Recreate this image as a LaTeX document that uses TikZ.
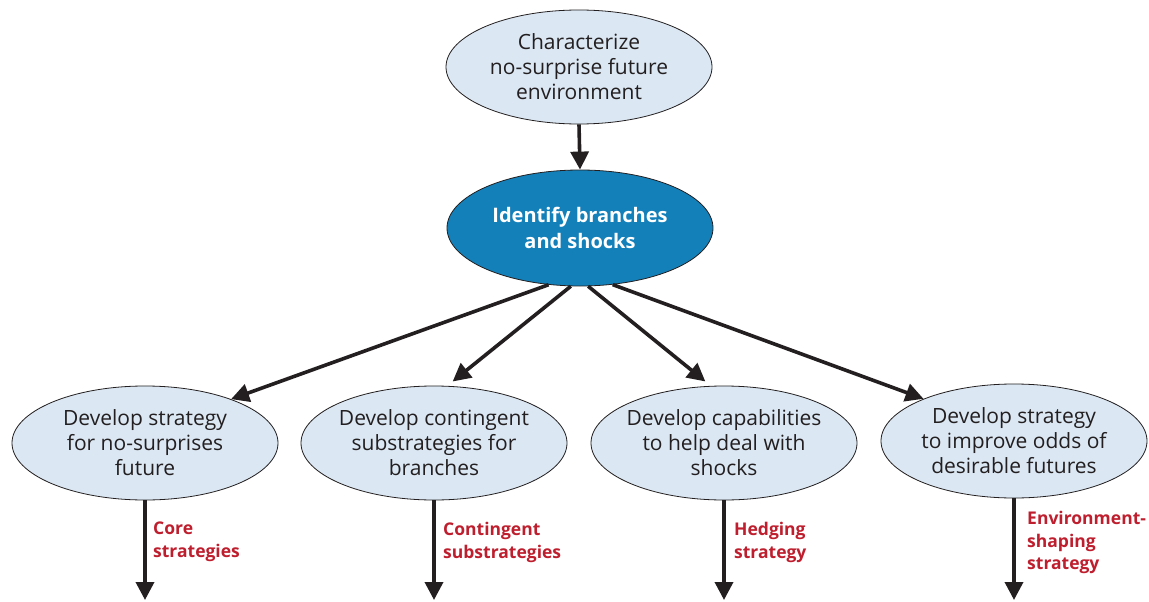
\documentclass[tikz,border=0pt]{standalone}
\usepackage{fontspec}
\setmainfont{Open Sans}
\usetikzlibrary{shapes.geometric,arrows.meta}
\definecolor{lightfill}{RGB}{219,231,243}
\definecolor{darkblue}{RGB}{20,128,186}
\definecolor{labelred}{RGB}{190,30,45}
\definecolor{textgray}{RGB}{35,31,32}
\tikzset{
  oval/.style={ellipse, draw=textgray, line width=0.8pt, fill=lightfill, inner sep=-8pt,
    minimum width=266pt, minimum height=114pt, align=center, text=textgray,
    font=\fontsize{21}{25}\selectfont},
  mainoval/.style={oval, fill=darkblue, text=white, minimum height=116pt,
    font=\fontsize{20}{26}\selectfont\bfseries},
  conn/.style={line width=3.6pt, draw=textgray, -{Triangle[length=18pt,width=18pt]}},
  redlabel/.style={anchor=north west, align=left, text=labelred, inner sep=0pt,
    font=\fontsize{17.5}{22.5}\selectfont\bfseries},
}
\begin{document}
\begin{tikzpicture}[x=1pt,y=-1pt]
\useasboundingbox (0,0) rectangle (1149,602);
\node[oval] (top) at (579,67) {Characterize\\no-surprise future\\environment};
\node[mainoval] (mid) at (580,228) {Identify branches\\and shocks};
\node[oval] (d1) at (145,443) {Develop strategy\\for no-surprises\\future};
\node[oval] (d2) at (434,443) {Develop contingent\\substrategies for\\branches};
\node[oval] (d3) at (724,443) {Develop capabilities\\to help deal with\\shocks};
\node[oval] (d4) at (1014,441) {Develop strategy\\to improve odds of\\desirable futures};

\coordinate (e1) at (145,600);
\coordinate (e2) at (434,600);
\coordinate (e3) at (724,600);
\coordinate (e4) at (1014,600);

\draw[conn] (top.south) -- (mid.north);
\draw[conn] (mid.241) -- (d1.27);
\draw[conn, shorten >=7pt] (mid.261) -- (d2.77);
\draw[conn, shorten >=7pt] (mid.278) -- (d3.103);
\draw[conn] (mid.300) -- (d4.155);

\draw[conn] (d1.south) -- (e1);
\draw[conn] (d2.south) -- (e2);
\draw[conn] (d3.south) -- (e3);
\draw[conn] (d4.south) -- (e4);

\node[redlabel] (l1) at (153,522) {Core\\strategies};
\node[redlabel] (l2) at (443,522) {Contingent\\substrategies};
\node[redlabel] (l3) at (734,522) {Hedging\\strategy};
\node[redlabel] (l4) at (1027,511) {Environment-\\shaping\\strategy};
\end{tikzpicture}
\end{document}
